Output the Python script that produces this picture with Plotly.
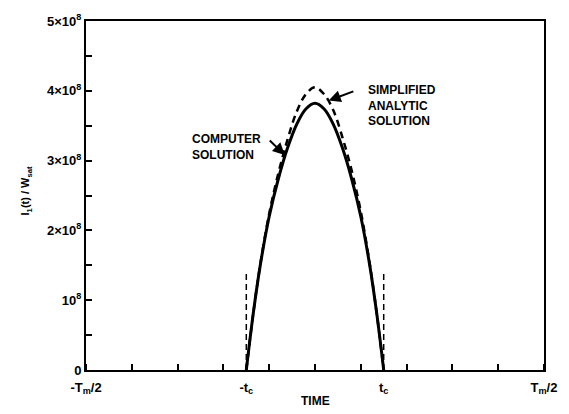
import plotly.graph_objects as go

# Time in units where T_m/2 = 5 and t_c = 1.5 ; values in units of 1e8
tc = 1.5
tm_half = 5.0

computer_t = [-1.5, -1.35, -1.2, -1.0, -0.8, -0.6, -0.4, -0.2, 0.0,
              0.2, 0.4, 0.6, 0.8, 1.0, 1.2, 1.35, 1.5]
computer_v = [0.0, 0.80, 1.48, 2.20, 2.74, 3.18, 3.52, 3.74, 3.82,
              3.74, 3.52, 3.18, 2.74, 2.20, 1.48, 0.80, 0.0]

analytic_t = [-1.5, -1.35, -1.2, -1.0, -0.8, -0.6, -0.4, -0.2, 0.0,
              0.2, 0.4, 0.6, 0.8, 1.0, 1.2, 1.35, 1.5]
analytic_v = [0.0, 0.80, 1.49, 2.24, 2.82, 3.30, 3.70, 3.95, 4.05,
              3.95, 3.72, 3.33, 2.86, 2.27, 1.50, 0.80, 0.0]

marker_t = [-tc, tc]
marker_top = 1.4

y_tickvals = [0, 1, 2, 3, 4, 5]
y_ticktext = ["0", "10<sup>8</sup>", "2×10<sup>8</sup>", "3×10<sup>8</sup>",
              "4×10<sup>8</sup>", "5×10<sup>8</sup>"]
x_tickvals = [-tm_half, -tc, tc, tm_half]
x_ticktext = ["-T<sub>m</sub>/2", "-t<sub>c</sub>", "t<sub>c</sub>", "T<sub>m</sub>/2"]

FONT = "Liberation Sans"

fig = go.Figure()

for xv in marker_t:
    fig.add_trace(go.Scatter(x=[xv, xv], y=[0, marker_top], mode="lines",
                             line=dict(color="black", width=1.5, dash="6px,4px"),
                             showlegend=False, hoverinfo="skip"))

fig.add_trace(go.Scatter(x=analytic_t, y=analytic_v, mode="lines",
                         line=dict(color="black", width=2.5, dash="7px,5px", shape="spline",
                                   smoothing=1.0),
                         showlegend=False))
fig.add_trace(go.Scatter(x=computer_t, y=computer_v, mode="lines",
                         line=dict(color="black", width=3, shape="spline", smoothing=1.0),
                         showlegend=False))

fig.update_layout(
    width=569, height=414,
    margin=dict(l=86, r=13, t=18, b=44),
    paper_bgcolor="white", plot_bgcolor="white",
    font=dict(family=FONT, color="black", size=12),
)

fig.update_xaxes(
    range=[-tm_half, tm_half], showgrid=False, zeroline=False,
    showline=True, linecolor="black", linewidth=2, mirror=True,
    tickvals=x_tickvals, ticktext=x_ticktext, ticks="",
    tickfont=dict(family=FONT, size=13, weight="bold"),
    ticklabelstandoff=4,
    minor=dict(tick0=0, dtick=1, ticks="inside", ticklen=6, tickcolor="black", tickwidth=1.5),
)
fig.update_yaxes(
    range=[0, 5], showgrid=False, zeroline=False,
    showline=True, linecolor="black", linewidth=2, mirror=True,
    tickvals=y_tickvals, ticktext=y_ticktext, ticks="inside", ticklen=6,
    tickwidth=1.5, tickcolor="black",
    tickfont=dict(family=FONT, size=13, weight="bold"),
    minor=dict(tick0=0, dtick=0.5, ticks="inside", ticklen=6, tickcolor="black", tickwidth=1.5),
)

annot_font = dict(family=FONT, size=12, weight="bold", color="black")

fig.add_annotation(x=-2.72, y=3.2, xref="x", yref="y", text="COMPUTER<br>SOLUTION",
                   showarrow=False, xanchor="left", yanchor="middle", align="left",
                   font=annot_font)
fig.add_annotation(x=1.11, y=3.79, xref="x", yref="y", text="SIMPLIFIED<br>ANALYTIC<br>SOLUTION",
                   showarrow=False, xanchor="left", yanchor="middle", align="left",
                   font=annot_font)
# leaders
fig.add_annotation(x=-0.66, y=3.08, ax=-1.02, ay=3.31, xref="x", yref="y",
                   axref="x", ayref="y", text="", showarrow=True,
                   arrowhead=2, arrowsize=1.2, arrowwidth=2, arrowcolor="black")
fig.add_annotation(x=0.30, y=3.86, ax=0.87, ay=4.0, xref="x", yref="y",
                   axref="x", ayref="y", text="", showarrow=True,
                   arrowhead=2, arrowsize=1.2, arrowwidth=2, arrowcolor="black")

fig.add_annotation(x=-0.151, y=0.514, xref="paper", yref="paper",
                   text="I<sub>1</sub>(t) / W<sub>sat</sub>", textangle=-90,
                   showarrow=False, font=dict(family=FONT, size=11, weight="bold"))
fig.add_annotation(x=0.5, y=-0.088, xref="paper", yref="paper", text="TIME",
                   showarrow=False, yanchor="middle",
                   font=dict(family=FONT, size=12, weight="bold"))

fig.write_html("out.html")
